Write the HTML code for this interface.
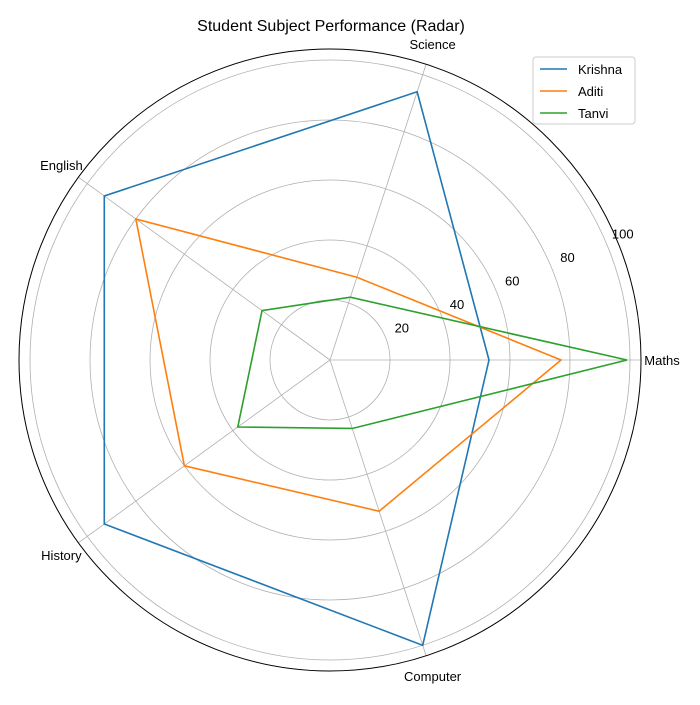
<!DOCTYPE html>
<html><head><meta charset="utf-8"><style>
body{margin:0;background:#fff}
svg{font-family:"Liberation Sans","DejaVu Sans",sans-serif}
</style></head><body>
<svg id="chart" width="700" height="700">
<text x="331" y="31" font-size="16" text-anchor="middle">Student Subject Performance (Radar)</text>
<g id="grid"></g><g id="series"></g>
<g>
<rect x="533" y="57" width="102" height="67" fill="#fff" stroke="#ccc" rx="3"/>
<g id="legend"></g>
</g>
</svg>
<script>
const categories=["Maths","Science","English","History","Computer"];
const seriesNames=["Krishna","Aditi","Tanvi"];
const krishna=[53,94,93,93,100];
const aditi=[77,29,80,60,53];
const tanvi=[99,22,28,38,24];
const ticks=[20,40,60,80,100];
const colors=["#1f77b4","#ff7f0e","#2ca02c"];
const allSeries=[krishna,aditi,tanvi];
const cx=330,cy=360,scale=3,rmaxPx=311;
const NS="http://www.w3.org/2000/svg";
function mk(t,a,p){const e=document.createElementNS(NS,t);for(const k in a)e.setAttribute(k,a[k]);p.appendChild(e);return e;}
function ang(i){return i*2*Math.PI/categories.length;}
function pt(i,v){const a=ang(i);return [cx+v*scale*Math.cos(a),cy-v*scale*Math.sin(a)];}
const g=document.getElementById('grid');
ticks.forEach(t=>{
 const c=mk('circle',{cx:cx,cy:cy,r:t*scale,fill:'none',stroke:'#b0b0b0','stroke-width':0.8},g);
 
 
 const a=23*Math.PI/180,rr=t*scale+18;
 const tx=mk('text',{x:cx+rr*Math.cos(a),y:cy-rr*Math.sin(a)+3,'font-size':13,'text-anchor':'middle'},g);
 tx.textContent=t;
 
 
});
categories.forEach((c,i)=>{
 const a=ang(i);
 const l=mk('line',{x1:cx,y1:cy,x2:cx+rmaxPx*Math.cos(a),y2:cy-rmaxPx*Math.sin(a),stroke:'#b0b0b0','stroke-width':0.8},g);
 
 
 const rr=332,x=cx+rr*Math.cos(a),y=cy-rr*Math.sin(a);
 const t=mk('text',{x:x,y:y+5,'font-size':13,'text-anchor':'middle'},g);
 t.textContent=c;
 
 
});
const oc=mk('circle',{cx:cx,cy:cy,r:rmaxPx,fill:'none',stroke:'#000','stroke-width':1},g);


const s=document.getElementById('series');
allSeries.forEach((vals,k)=>{
 const pts=vals.map((v,i)=>pt(i,v).join(',')).join(' ');
 const p=mk('polygon',{points:pts,fill:'none',stroke:colors[k],'stroke-width':1.6},s);
 
 
});
const lg=document.getElementById('legend');
seriesNames.forEach((n,k)=>{
 const y=69+k*22;
 const l=mk('line',{x1:540,y1:y,x2:567,y2:y,stroke:colors[k],'stroke-width':1.6},lg);
 
 
 const t=mk('text',{x:578,y:y+5,'font-size':13},lg);
 t.textContent=n;
 
 
});
</script>
</body></html>
